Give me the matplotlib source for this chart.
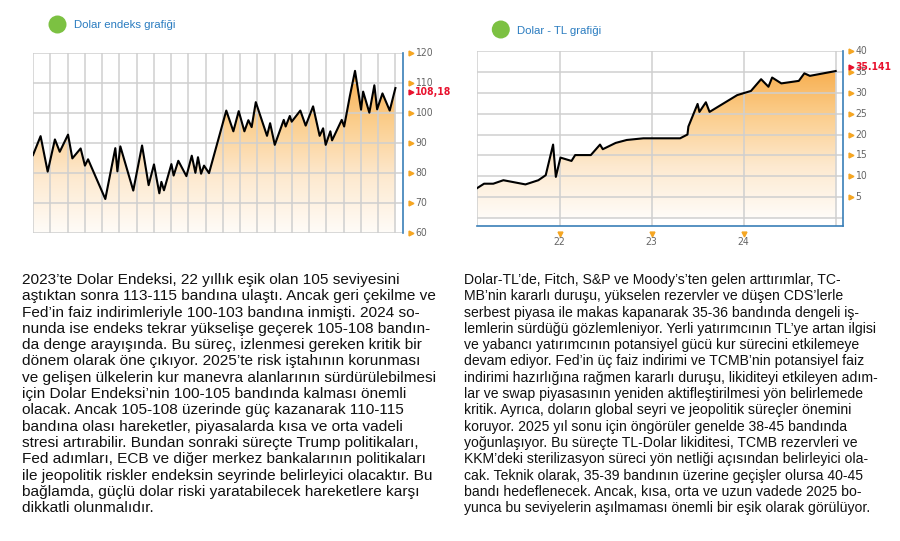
import numpy as np
import matplotlib.pyplot as plt
import matplotlib.transforms as mtransforms
from matplotlib.colors import LinearSegmentedColormap
from matplotlib.patches import Circle

# -------------------------
# Veriler
# -------------------------

# Dolar endeksi (x: dikey ızgara çizgisi indeksi)
dxy_x = [0, 0.44, 0.85, 1.27, 1.55, 2.03, 2.28, 2.76, 3.01, 3.19, 4.19, 4.77,
         4.89, 5.06, 5.81, 6.32, 6.70, 7.01, 7.32, 7.44, 7.59, 8.02, 8.15,
         8.42, 8.89, 9.20, 9.41, 9.56, 9.74, 9.91, 10.2, 11.2, 11.61, 11.92,
         12.25, 12.48, 12.67, 12.91, 13.56, 13.74, 14.01, 14.53, 14.64, 14.88,
         14.99, 15.49, 15.80, 16.23, 16.61, 16.81, 16.96, 17.23, 17.33, 17.89,
         18.03, 18.36, 18.66, 19.01, 19.13, 19.49, 19.78, 19.94, 20.25, 20.67,
         21.0]
dxy_y = [85.9, 92.2, 80.4, 91.1, 87.0, 92.7, 84.8, 88.1, 82.4, 84.5, 71.3, 88.2,
         80.5, 88.8, 74.1, 89.1, 75.9, 82.8, 73.2, 77.0, 74.2, 82.9, 79.1,
         84.0, 78.9, 85.7, 80.0, 85.2, 79.7, 82.4, 79.9, 100.7, 93.8, 100.5,
         93.8, 97.5, 95.2, 103.5, 92.3, 96.5, 89.3, 97.6, 95.4, 98.9,
         97.0, 100.7, 95.7, 102.1, 92.3, 94.8, 89.3, 93.8, 90.8, 97.6,
         95.4, 105.5, 113.9, 101.0, 107.0, 100.0, 109.1, 101.1, 106.4, 100.7,
         108.18]
dxy_ticks = [60, 70, 80, 90, 100, 110, 120]
dxy_last = "108,18"

# Dolar - TL (x: yıl)
usd_x = [21.10, 21.18, 21.28, 21.39, 21.63, 21.77, 21.85, 21.93, 21.96, 22.01,
         22.13, 22.17, 22.34, 22.44, 22.47, 22.61, 22.73, 22.91, 23.0, 23.31,
         23.39, 23.40, 23.50, 23.52, 23.59, 23.63, 23.78, 23.93, 24.08, 24.19,
         24.27, 24.31, 24.41, 24.60, 24.66, 24.72, 25.0]
usd_y = [7.15, 8.27, 8.27, 9.1, 8.1, 9.1, 10.3, 17.6, 9.9, 14.5,
         13.7, 15.1, 15.1, 17.6, 16.5, 18.0, 18.7, 19.1, 19.1, 19.1,
         20.0, 21.9, 27.3, 25.4, 27.7, 25.4, 27.4, 29.4, 30.4, 33.2,
         31.4, 33.6, 32.2, 32.8, 34.6, 34.0, 35.141]
usd_ticks = [5, 10, 15, 20, 25, 30, 35, 40]
usd_last = "35.141"
year_ticks = [22, 23, 24]
year_labels = ["22", "23", "24"]

left_text = [
    "2023’te Dolar Endeksi, 22 yıllık eşik olan 105 seviyesini",
    "aştıktan sonra 113-115 bandına ulaştı. Ancak geri çekilme ve",
    "Fed’in faiz indirimleriyle 100-103 bandına inmişti. 2024 so-",
    "nunda ise endeks tekrar yükselişe geçerek 105-108 bandın-",
    "da denge arayışında. Bu süreç, izlenmesi gereken kritik bir",
    "dönem olarak öne çıkıyor. 2025’te risk iştahının korunması",
    "ve gelişen ülkelerin kur manevra alanlarının sürdürülebilmesi",
    "için Dolar Endeksi’nin 100-105 bandında kalması önemli",
    "olacak. Ancak 105-108 üzerinde güç kazanarak 110-115",
    "bandına olası hareketler, piyasalarda kısa ve orta vadeli",
    "stresi artırabilir. Bundan sonraki süreçte Trump politikaları,",
    "Fed adımları, ECB ve diğer merkez bankalarının politikaları",
    "ile jeopolitik riskler endeksin seyrinde belirleyici olacaktır. Bu",
    "bağlamda, güçlü dolar riski yaratabilecek hareketlere karşı",
    "dikkatli olunmalıdır.",
]
right_text = [
    "Dolar-TL’de, Fitch, S&P ve Moody’s’ten gelen arttırımlar, TC-",
    "MB’nin kararlı duruşu, yükselen rezervler ve düşen CDS’lerle",
    "serbest piyasa ile makas kapanarak 35-36 bandında dengeli iş-",
    "lemlerin sürdüğü gözlemleniyor. Yerli yatırımcının TL’ye artan ilgisi",
    "ve yabancı yatırımcının potansiyel gücü kur sürecini etkilemeye",
    "devam ediyor. Fed’in üç faiz indirimi ve TCMB’nin potansiyel faiz",
    "indirimi hazırlığına rağmen kararlı duruşu, likiditeyi etkileyen adım-",
    "lar ve swap piyasasının yeniden aktifleştirilmesi yön belirlemede",
    "kritik. Ayrıca, doların global seyri ve jeopolitik süreçler önemini",
    "koruyor. 2025 yıl sonu için öngörüler genelde 38-45 bandında",
    "yoğunlaşıyor. Bu süreçte TL-Dolar likiditesi, TCMB rezervleri ve",
    "KKM’deki sterilizasyon süreci yön netliği açısından belirleyici ola-",
    "cak. Teknik olarak, 35-39 bandının üzerine geçişler olursa 40-45",
    "bandı hedeflenecek. Ancak, kısa, orta ve uzun vadede 2025 bo-",
    "yunca bu seviyelerin aşılmaması önemli bir eşik olarak görülüyor.",
]

# -------------------------
# Stil
# -------------------------

W, H = 900, 541
GRID = "#cfcfcf"
BLUE = "#3a7fb8"
ORANGE = "#f5a623"
RED = "#e8112d"
NARROW = dict(family="DejaVu Sans", stretch="condensed")
orange_cmap = LinearSegmentedColormap.from_list(
    "turuncu", ["#fffcf8", "#fde9cf", "#fbcd8b", "#f7a945"])

fig = plt.figure(figsize=(9, 5.41), dpi=100)


def px_axes(x0, y0, x1, y1):
    return fig.add_axes([x0 / W, 1 - y1 / H, (x1 - x0) / W, (y1 - y0) / H])


def gradient_fill(ax, x, y, base, vmin, vmax):
    poly = ax.fill_between(x, y, base, color="none", lw=0)
    path = poly.get_paths()[0]
    xl = ax.get_xlim()
    yl = ax.get_ylim()
    img = ax.imshow(np.linspace(1, 0, 256).reshape(-1, 1), cmap=orange_cmap,
                    aspect="auto", extent=[xl[0], xl[1], vmin, vmax], zorder=1)
    img.set_clip_path(path, transform=ax.transData)
    ax.set_xlim(xl)
    ax.set_ylim(yl)


def right_ticks(ax, ticks, last_val, last_label, last_dy=0):
    tr = ax.get_yaxis_transform()
    ax.plot([1.021] * len(ticks), ticks, ls="none", marker=">", ms=3.5,
            color=ORANGE, transform=tr, clip_on=False)
    for t in ticks:
        ax.text(1.033, t, str(t), transform=tr, va="center", ha="left",
                fontsize=7.5, color="#666666", **NARROW)
    shift = tr + mtransforms.ScaledTranslation(0, last_dy / 72, fig.dpi_scale_trans)
    ax.text(1.033, last_val, last_label, transform=shift, va="center",
            ha="left", fontsize=7.5, color=RED, fontweight="bold", **NARROW)
    ax.plot([1.021], [last_val], marker=">", ms=3.5, color=RED,
            transform=shift, clip_on=False)


# -------------------------
# Sol grafik: Dolar endeksi
# -------------------------

ax1 = px_axes(33, 52.5, 403, 233)
ax1.set_xlim(0, 21.44)
ax1.set_ylim(60, 120)
ax1.set_xticks(range(22))
ax1.set_yticks(dxy_ticks)
ax1.grid(True, color=GRID, lw=1.1)
ax1.tick_params(length=0, labelleft=False, labelbottom=False)
for side in ["top", "left", "bottom"]:
    ax1.spines[side].set_visible(False)
ax1.spines["right"].set_color(BLUE)
ax1.spines["right"].set_linewidth(1.2)
gradient_fill(ax1, dxy_x, dxy_y, 60, 60, 116)
ax1.plot(dxy_x, dxy_y, color="black", lw=1.5, zorder=3)
right_ticks(ax1, dxy_ticks, dxy_y[-1], dxy_last, last_dy=-3)

# -------------------------
# Sağ grafik: Dolar - TL
# -------------------------

ax2 = px_axes(476.7, 50.7, 843, 225.7)
ax2.set_xlim(21.1, 25.08)
ax2.set_ylim(-1.75, 40)
ax2.set_xticks([21.1] + year_ticks + [25.0])
ax2.set_yticks([0] + usd_ticks)
ax2.grid(True, color=GRID, lw=1.1)
ax2.tick_params(length=0, labelleft=False, labelbottom=False)
for side in ["top", "left"]:
    ax2.spines[side].set_visible(False)
for side in ["right", "bottom"]:
    ax2.spines[side].set_color(BLUE)
    ax2.spines[side].set_linewidth(1.2)
gradient_fill(ax2, usd_x, usd_y, 0, 0, 37)
ax2.plot(usd_x, usd_y, color="black", lw=1.5, zorder=3)
right_ticks(ax2, usd_ticks, usd_y[-1], usd_last, last_dy=3)

xtr = ax2.get_xaxis_transform()
ax2.plot(year_ticks, [-0.05] * len(year_ticks), ls="none", marker="v", ms=3.5,
         color=ORANGE, transform=xtr, clip_on=False)
for t, lab in zip(year_ticks, year_labels):
    ax2.text(t, -0.095, lab, transform=xtr, ha="center", va="center",
             fontsize=7.5, color="#666666", **NARROW)

# -------------------------
# Başlıklar ve metin
# -------------------------

page = fig.add_axes([0, 0, 1, 1], zorder=-1)
page.set_xlim(0, W)
page.set_ylim(H, 0)
page.axis("off")

for cx, cy, title in [(57.5, 24.5, "Dolar endeks grafiği"),
                      (500.8, 29.5, "Dolar - TL grafiği")]:
    page.add_patch(Circle((cx, cy), 9, color="#7cc142", lw=0))
    page.text(cx + 16.5, cy + 1, title, ha="left", va="center", fontsize=8.2,
              color="#2a7cc0", family="Liberation Sans")

for x0, size, lines in [(22, 11.1, left_text), (464, 10.1, right_text)]:
    for i, line in enumerate(lines):
        page.text(x0, 280 + i * 16.3, line, ha="left", va="center",
                  fontsize=size, color="#111111", family="Liberation Sans")

fig.savefig("out.png", dpi=100)
